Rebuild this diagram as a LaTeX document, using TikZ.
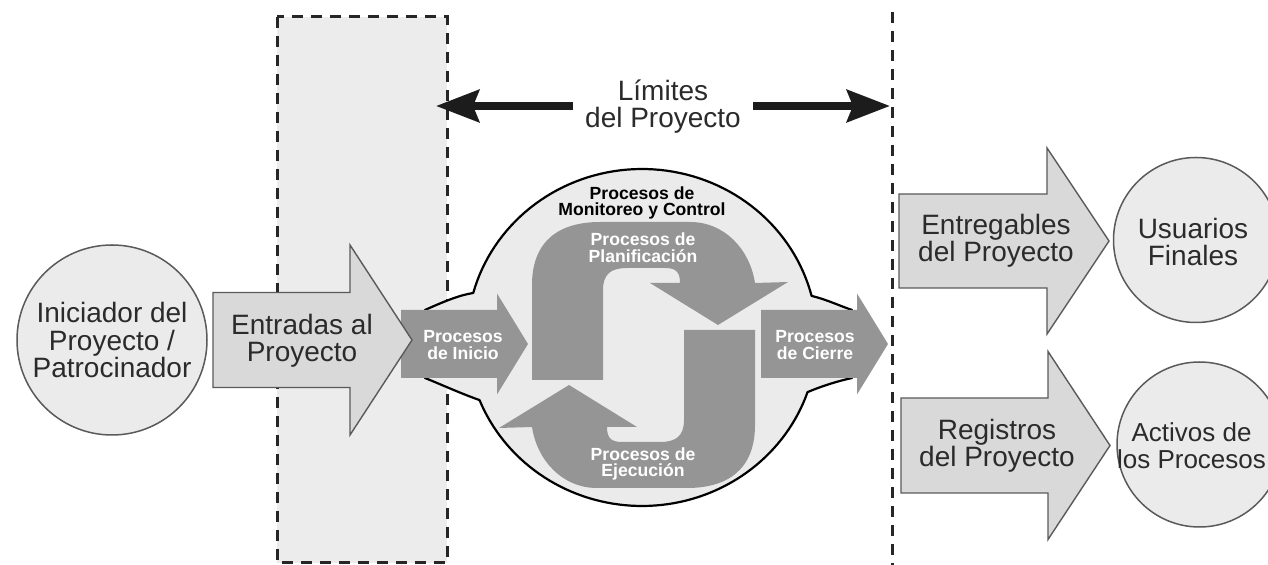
\documentclass[tikz,border=0pt]{standalone}
\usepackage{fontspec}
\setmainfont{Liberation Sans}
\usetikzlibrary{arrows.meta}

\definecolor{paleg}{HTML}{ECECEC}
\definecolor{blobg}{HTML}{EBEBEB}
\definecolor{arrowg}{HTML}{D9D9D9}
\definecolor{procg}{HTML}{959595}
\definecolor{inkg}{HTML}{2B2B2B}
\definecolor{edgeg}{HTML}{5A5A5A}
\definecolor{limk}{HTML}{1C1C1C}

\newcommand{\lblfont}{\fontsize{14}{13.6}\selectfont}
\newcommand{\procfont}{\fontsize{8.8}{8.4}\selectfont\bfseries}

% block arrow: #1 tail x, #2 head base x, #3 tip x, #4 centre y, #5 half body, #6 half head
\newcommand{\blockarrow}[6]{(#1,#4-#5) -- (#2,#4-#5) -- (#2,#4-#6) -- (#3,#4) -- (#2,#4+#6) -- (#2,#4+#5) -- (#1,#4+#5) -- cycle}

\begin{document}
\begin{tikzpicture}[x=0.5pt,y=-0.5pt,
  lbl/.style={text=inkg, font=\lblfont, align=center, inner sep=0pt},
  plbl/.style={text=white, font=\procfont, align=center, inner sep=0pt},
  mlbl/.style={text=black, font=\procfont, align=center, inner sep=0pt},
  circ/.style={circle, draw=edgeg, line width=0.75pt, fill=blobg, lbl, minimum size=#1},
  inarrow/.style={fill=arrowg, draw=edgeg, line width=0.7pt, line join=miter},
  procarrow/.style={fill=procg},
  limarrow/.style={line width=4pt, draw=limk, -{Stealth[length=21.5pt,width=16pt,inset=3pt]}},
  bounddash/.style={draw=black!85, line width=1.5pt, dash pattern=on 5.5pt off 4pt},
  blob/.style={fill=blobg, draw=black, line width=1.1pt, line join=round}
]
\useasboundingbox (0,0) rectangle (1268,565);
\fill[white] (0,0) rectangle (1268,565);

% shaded input zone and project boundary
\fill[paleg] (277,17) rectangle (447,563);
\draw[bounddash] (277,17) rectangle (447,563);
\draw[bounddash] (892,12) -- (892,565);
\coordinate (limL) at (436,106);
\coordinate (limR) at (890,106);

% process group outline
\draw[blob] (425,310) .. controls (445,301) and (460,295) .. (473.2,293)
  -- plot[domain=195.3:345.7, samples=70] ({642+175*cos(\x)},{337.5+168.5*sin(\x)})
  .. controls (828,300) and (840,306) .. (852,310) -- (852,378)
  .. controls (838,381) and (822,386) .. (807.6,392.1)
  -- plot[domain=18.9:158.2, samples=70] ({642+175*cos(\x)},{337.5+168.5*sin(\x)})
  .. controls (462,394) and (440,384) .. (425,378) -- cycle;

% planning / executing loop
\fill[procarrow] (532,380) -- (532,285) .. controls (532,240) and (560,222) .. (600,222)
  -- (690,222) .. controls (725,222) and (750,250) .. (755,283)
  -- (788,282) -- (718,325) -- (650,283) -- (680,283)
  .. controls (680,272) and (676,268) .. (665,268) -- (627,268)
  .. controls (611,268) and (603,274) .. (603,290) -- (603,380) -- cycle;
\begin{scope}[rotate around={180:(643.5,355)}]
\fill[procarrow] (532,380) -- (532,285) .. controls (532,240) and (560,222) .. (600,222)
  -- (690,222) .. controls (725,222) and (750,250) .. (755,283)
  -- (788,282) -- (718,325) -- (650,283) -- (680,283)
  .. controls (680,272) and (676,268) .. (665,268) -- (627,268)
  .. controls (611,268) and (603,274) .. (603,290) -- (603,380) -- cycle;
\end{scope}

% initiating and closing
\fill[procarrow] \blockarrow{401}{497}{528}{344}{34}{50.5};
\fill[procarrow] \blockarrow{761}{857}{888}{344}{34}{50.5};

% inputs and outputs
\draw[inarrow] \blockarrow{213}{350}{412}{340}{47.5}{95};
\draw[inarrow] \blockarrow{899}{1047}{1109}{241}{47}{93};
\draw[inarrow] \blockarrow{901}{1048}{1110}{445.5}{47.5}{94};

\node[circ=95pt] (ini) at (112,340) {Iniciador del\\Proyecto /\\Patrocinador};
\node[circ=82.5pt] (usu) at (1196,240) {};
\node[circ=82.5pt] (act) at (1199.5,444.5) {};
\node[lbl] (usut) at (1193,242) {Usuarios\\Finales};
\node[lbl, font=\fontsize{13}{13.6}\selectfont] (actt) at (1191.5,446) {Activos de\\los Procesos};

\node[lbl] (ent) at (302,341) {Entradas al\\Proyecto};
\node[lbl] (entr) at (996,241) {Entregables\\del Proyecto};
\node[lbl] (reg) at (997,446) {Registros\\del Proyecto};

\node[mlbl] (mon) at (642,203) {Procesos de\\Monitoreo y Control};
\node[plbl] (pla) at (643,248) {Procesos de\\Planificación};
\node[plbl] (eje) at (643,464) {Procesos de\\Ejecución};
\node[plbl] (inic) at (463,345) {Procesos\\de Inicio};
\node[plbl] (cie) at (815,345) {Procesos\\de Cierre};

% project limits
\node[lbl, inner xsep=6pt] (lim) at (663,107) {Límites\\del Proyecto};
\draw[limarrow] (lim.west |- limL) -- (limL);
\draw[limarrow] (lim.east |- limR) -- (limR);
\end{tikzpicture}
\end{document}
